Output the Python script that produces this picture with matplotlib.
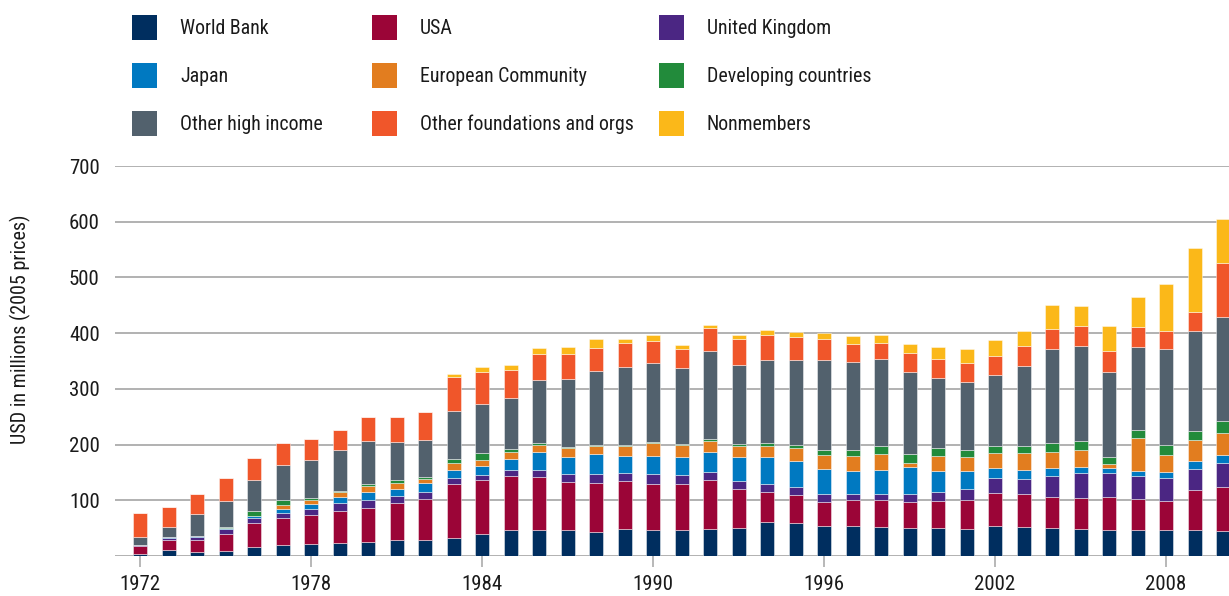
import matplotlib
matplotlib.use("Agg")
import matplotlib.pyplot as plt
from matplotlib.patches import Rectangle
from matplotlib import font_manager as fm
import numpy as np

years = list(range(1972, 2011))
world_bank = [4, 10, 8, 9, 17, 20, 21, 23, 25, 28, 29, 33, 40, 46, 46, 46, 43, 49, 47, 47,
              49, 51, 61, 60, 53, 53, 52, 51, 50, 49, 53, 52, 50, 49, 47, 46, 46, 46, 45]
usa = [14, 18, 21, 31, 43, 49, 53, 57, 61, 67, 73, 96, 96, 98, 96, 86, 88, 85, 83, 82,
       87, 70, 54, 50, 44, 47, 48, 46, 48, 51, 60, 59, 56, 56, 59, 56, 53, 72, 78]
united_kingdom = [2, 5, 6, 8, 8, 8.5, 11, 15, 14, 12, 12, 11, 9, 10, 13, 15, 16.5, 15.5, 16.5, 15.5,
                  14.5, 13, 14, 14.6, 13.4, 11.6, 12, 15, 16, 20.4, 27, 27.4, 37, 43.6, 43.5, 42, 41.4, 38, 43.7]
japan = [0.5, 1, 1, 2, 3, 6.5, 9, 11, 15, 14, 16.5, 15, 17, 20, 31, 31.5, 35.5, 30.5, 33.5, 34,
         37, 44, 48, 46, 45, 40.4, 42, 47, 39, 32.5, 18.5, 16, 15.5, 10.5, 9, 9, 10.8, 14, 14.3]
european_community = [0, 0, 0, 0, 0, 7, 6, 8, 10, 10, 7.5, 12, 11, 13.5, 13, 14.5, 14, 17.5, 23, 20,
                      19.5, 19, 21, 23, 25, 27.5, 29.3, 7.5, 26, 24, 27, 30, 27.5, 31.5, 6.5, 58, 30.6, 37.7, 39.6]
developing = [0, 0, 0, 2, 10, 9, 4, 2, 5, 5, 4.5, 7, 11, 4.5, 4, 2, 2, 2, 2.5, 2,
              3, 3.5, 5.5, 6.5, 9, 11.5, 14.5, 16.5, 14, 13.5, 12, 12.5, 16, 16, 13, 14.7, 17.3, 17.4, 21.4]
other_high_income = [13, 18, 39, 46, 56, 63, 69, 75, 76, 68, 66, 86, 88.5, 91, 113, 123, 133, 139, 140.5, 136.5,
                     158.5, 141.5, 149, 151.5, 162, 158, 155.5, 147, 127, 121.5, 127, 145, 169, 170, 153, 149.3, 172, 178.7, 186.7]
other_foundations = [43, 36, 36, 42.5, 39, 40.6, 37, 36, 43.5, 45.5, 49.5, 61, 58.5, 50, 46, 44.5, 42, 43, 39.5, 34.5,
                     41, 47, 45, 41.8, 37.4, 31, 28.7, 34, 34, 34, 35.3, 34.3, 37, 36, 37.5, 35.6, 32.3, 34.5, 97]
nonmembers = [0, 0, 0, 0, 0, 0, 0, 0, 0, 0, 0, 5, 8, 9, 11, 13, 15, 8, 10.5, 7,
              6, 8, 9, 9, 11.4, 14, 14.3, 17, 21.7, 26, 27, 27, 43, 37, 43.5, 54.4, 84.6, 114, 80]

series_names = ["World Bank", "USA", "United Kingdom", "Japan", "European Community",
                "Developing countries", "Other high income", "Other foundations and orgs", "Nonmembers"]
series_values = [world_bank, usa, united_kingdom, japan, european_community,
                 developing, other_high_income, other_foundations, nonmembers]
colors = ["#002E5F", "#9B0537", "#4B2683", "#0079C1", "#E27D1F",
          "#228B3B", "#52616D", "#F0562A", "#FBB819"]

xtick_years = [1972, 1978, 1984, 1990, 1996, 2002, 2008]
yticks = [100, 200, 300, 400, 500, 600, 700]

# pick a condensed sans font if one is installed
available = {f.name for f in fm.fontManager.ttflist}
FONT_PROPS = {"family": ["DejaVu Sans"], "stretch": "normal"}
for cand in ["Roboto Condensed", "Archivo Narrow", "Liberation Sans Narrow", "PT Sans Narrow",
             "IBM Plex Sans Condensed", "Fira Sans Condensed"]:
    if cand in available:
        FONT_PROPS = {"family": [cand, "DejaVu Sans"], "stretch": "normal"}
        break
else:
    if any(f.name == "Open Sans" and f.stretch == "condensed" for f in fm.fontManager.ttflist):
        FONT_PROPS = {"family": ["Open Sans", "DejaVu Sans"], "stretch": "condensed"}

plt.rcParams["font.family"] = FONT_PROPS["family"]
plt.rcParams["font.stretch"] = FONT_PROPS["stretch"]

W, H = 1229, 596
fig = plt.figure(figsize=(W / 100, H / 100), dpi=100)

px_per_year = 28.5
x0 = 1971.12
x1 = 2010.6
left_px, right_px = 115, 115 + (x1 - x0) * px_per_year
top_px, bottom_px = 166, 556
ax = fig.add_axes([left_px / W, 1 - bottom_px / H, (right_px - left_px) / W, (bottom_px - top_px) / H])
ax.set_xlim(x0, x1)
ax.set_ylim(0, 700)

for y in [0] + yticks:
    ax.axhline(y, color="#ababab", lw=1.3, zorder=0)

bottom = np.zeros(len(years))
for vals, col, name in zip(series_values, colors, series_names):
    v = np.array(vals, dtype=float)
    ax.bar(years, v, bottom=bottom, width=0.49, color=col, edgecolor=(1, 1, 1, 0.45),
           linewidth=0.7, zorder=2, label=name)
    bottom += v

for s in ax.spines.values():
    s.set_visible(False)

ax.set_yticks(yticks)
ax.set_yticklabels([str(t) for t in yticks], fontsize=15, color="#1a1a1a")
ax.tick_params(axis="y", length=0, pad=11)
ax.set_xticks(xtick_years)
ax.set_xticklabels([str(t) for t in xtick_years], fontsize=15, color="#1a1a1a")
ax.tick_params(axis="x", length=8, width=1.2, color="#ababab", pad=6)

fig.text(20 / W, 1 - 329 / H, "USD in millions (2005 prices)", rotation=90,
         ha="center", va="center", fontsize=14.5, color="#1a1a1a")

# legend: 3 x 3 grid
col_sq_x = [132, 372, 659]
row_cy = [27, 75, 123]
sq = 25
for i, (name, col) in enumerate(zip(series_names, colors)):
    r, c = divmod(i, 3)
    sx = col_sq_x[c]
    cy = row_cy[r]
    fig.add_artist(Rectangle((sx / W, 1 - (cy + sq / 2) / H), sq / W, sq / H,
                             transform=fig.transFigure, facecolor=col, edgecolor="none"))
    fig.text((sx + 48) / W, 1 - (cy + 1.5) / H, name, ha="left", va="center", fontsize=14.3, color="#1a1a1a")

fig.savefig("out.png", dpi=100)
